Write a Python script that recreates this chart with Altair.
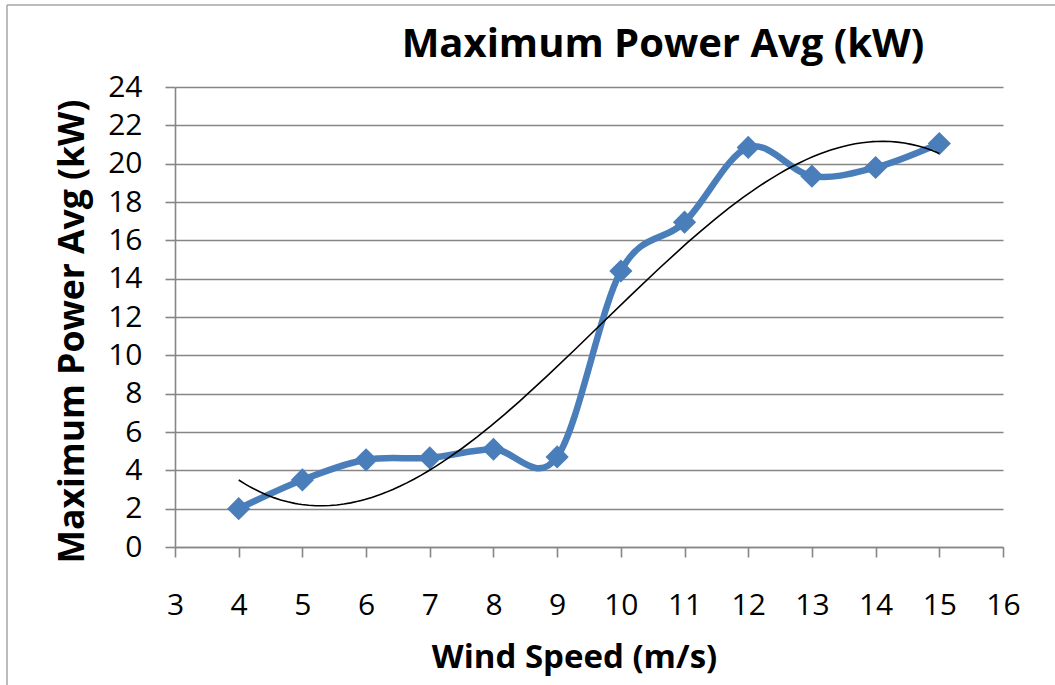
import altair as alt
import pandas as pd

wind_speed = [4, 5, 6, 7, 8, 9, 10, 11, 12, 13, 14, 15]
max_power = [2.0, 3.5, 4.55, 4.65, 5.1, 4.7, 14.4, 16.95, 20.85, 19.35, 19.8, 21.05]
y_ticks = list(range(0, 25, 2))
x_ticks = list(range(3, 17))

df = pd.DataFrame({"ws": wind_speed, "p": max_power})

FONT = "Open Sans"
BLUE = "#4A7EBB"
GRID = "#868686"

x_enc = alt.X(
    "ws:Q",
    scale=alt.Scale(domain=[3, 16], nice=False, zero=False),
    axis=alt.Axis(
        values=x_ticks, format="d", title="Wind Speed (m/s)", grid=False,
        labelPadding=33, titleX=399, titleY=120, labelOverlap=False, labelFlush=False,
        titleBaseline="alphabetic", titleAlign="center", titleFontSize=33,
    ),
)
y_enc = alt.Y(
    "p:Q",
    scale=alt.Scale(domain=[0, 24], nice=False),
    axis=alt.Axis(
        values=y_ticks, tickCount=13, format="d", title="Maximum Power Avg (kW)", grid=True,
        gridColor=GRID, gridWidth=1.6, gridOpacity=1, labelOverlap=False, labelFlush=False,
        labelPadding=23, titleX=-92, titleY=244, titleAngle=270,
        titleBaseline="alphabetic", titleAlign="center", titleFontSize=35.5,
    ),
)

base = alt.Chart(df)
line = base.mark_line(
    interpolate="cardinal", tension=0, color=BLUE, strokeWidth=6.5
).encode(x=x_enc, y=y_enc)
points = base.mark_point(
    shape="diamond", filled=True, size=540, color=BLUE, opacity=1
).encode(x=x_enc, y=y_enc)
trend = base.transform_regression(
    "ws", "p", method="poly", order=3, extent=[4, 15]
).mark_line(color="black", strokeWidth=1.6).encode(x=x_enc, y=y_enc)

frame_df = pd.DataFrame({"a": [0]})
frame_left = alt.Chart(frame_df).mark_rule(color="#A6A6A6", strokeWidth=1.5).encode(
    x=alt.value(-168), y=alt.value(-82), y2=alt.value(700)
)
frame_top = alt.Chart(frame_df).mark_rule(color="#A6A6A6", strokeWidth=1.5).encode(
    x=alt.value(-168), x2=alt.value(1000), y=alt.value(-82)
)

chart = alt.layer(line, points, trend, frame_left, frame_top).properties(
    width=828,
    height=460,
    autosize=alt.AutoSizeParams(type="none"),
    padding={"left": 175, "top": 87, "right": 52, "bottom": 138},
    title=alt.TitleParams(
        text="Maximum Power Avg (kW)", font=FONT, fontSize=40, fontWeight="bold",
        color="black", anchor="middle", dx=74, baseline="alphabetic", offset=-93,
    ),
).configure(background="white").configure_view(stroke=None).configure_axis(
    domainColor=GRID, domainWidth=1.6, tickColor=GRID, tickWidth=1.6, tickSize=10,
    labelFont=FONT, labelFontSize=30, labelColor="black",
    titleFont=FONT, titleFontWeight="bold", titleColor="black",
)

chart.save("out.html", embed_options={"renderer": "svg", "actions": False})
